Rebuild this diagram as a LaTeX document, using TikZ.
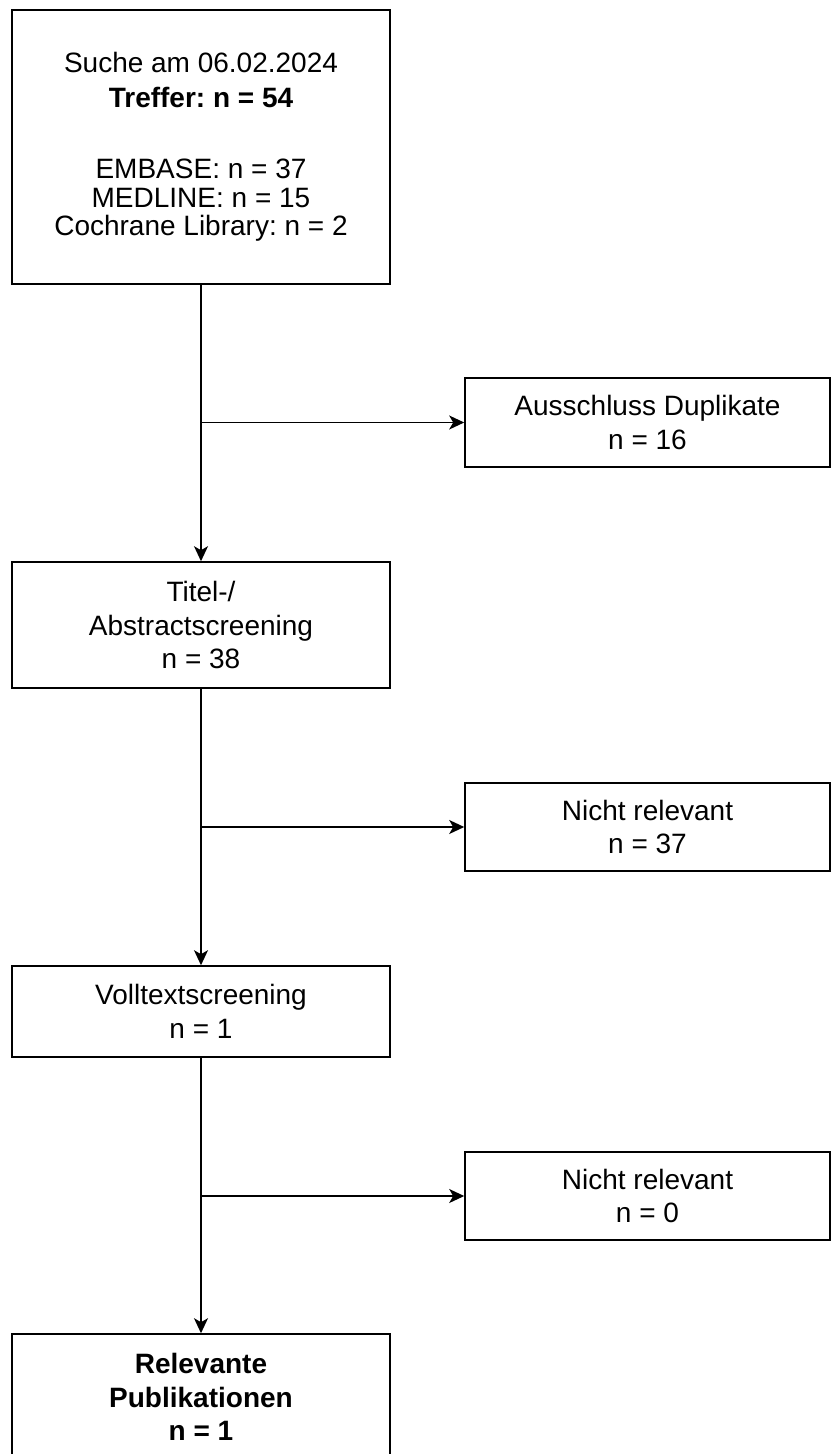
\documentclass[tikz,border=0pt]{standalone}
\usepackage{fontspec}
\setmainfont{Liberation Sans}
\frenchspacing
\usetikzlibrary{arrows.meta}

\begin{document}
\begin{tikzpicture}[x=1pt, y=-1pt,
  box/.style={draw, line width=1.6pt, inner sep=0pt, align=center,
    font=\fontsize{28}{33.6}\selectfont},
  flow/.style={line width=1.6pt, -{Stealth[length=15pt, width=14pt, inset=4pt]}}]
  \clip (0, 0) rectangle (831, 1454);
	%Search
	\node (such) [box, minimum width=378pt, minimum height=274pt, font=\fontsize{28}{28.7}\selectfont] at (201, 147)
	  {Suche am 06.02.2024\\[6.3pt] \textbf{Treffer: n = 54}\\[42.3pt] EMBASE: n = 37\\ MEDLINE: n = 15\\ Cochrane Library: n = 2};
	%Duplicates
	\node (dupl) [box, minimum width=365pt, minimum height=89pt] at (647.5, 422.5) {Ausschluss Duplikate\\ n = 16};
	%Title / abstract
	\node (titel) [box, minimum width=378pt, minimum height=126pt] at (201, 625) {Titel-/\\ Abstractscreening\\ n = 38};
	\node (nrel1) [box, minimum width=365pt, minimum height=88pt] at (647.5, 827) {Nicht relevant\\ n = 37};
	%Full text
	\node (voll) [box, minimum width=378pt, minimum height=91pt] at (201, 1011.5) {Volltextscreening\\ n = 1};
	\node (nrel2) [box, minimum width=365pt, minimum height=88pt] at (647.5, 1196) {Nicht relevant\\ n = 0};
	%Result
	\node (relev) [box, minimum width=378pt, minimum height=126pt] at (201, 1397) {\textbf{Relevante}\\ \textbf{Publikationen}\\ \textbf{n = 1}};
	%Arrows down
	\draw [flow] (such.south) -- (titel.north);
	\draw [flow] (titel.south) -- (voll.north);
	\draw [flow] (voll.south) -- (relev.north);
	%Arrows to the right
	\coordinate (s1) at (such.south |- dupl.west);
	\coordinate (s2) at (such.south |- nrel1.west);
	\coordinate (s3) at (such.south |- nrel2.west);
	\draw [flow] (s1) -- (dupl.west);
	\draw [flow] (s2) -- (nrel1.west);
	\draw [flow] (s3) -- (nrel2.west);
\end{tikzpicture}
\end{document}
